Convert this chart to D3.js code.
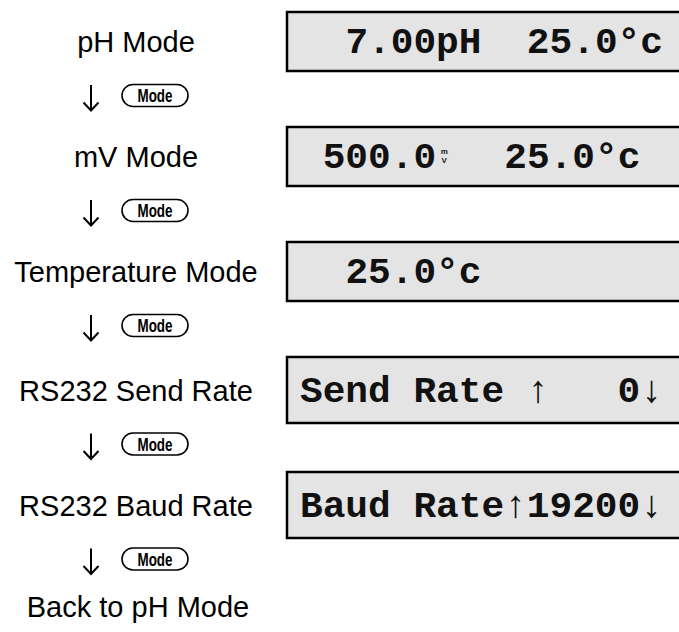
<!DOCTYPE html>
<html>
<head>
<meta charset="utf-8">
<script src="https://cdn.jsdelivr.net/npm/d3@7"></script>
<style>
  html, body { margin: 0; padding: 0; background: #fff; }
  svg { display: block; }
</style>
</head>
<body>
<script>
// ---- data ----
const modeLabels = ["pH Mode", "mV Mode", "Temperature Mode", "RS232 Send Rate", "RS232 Baud Rate"];
const displayTexts = ["  7.00pH  25.0°c", " 500.0   25.0°c", "  25.0°c", "Send Rate ↑   0↓", "Baud Rate↑19200↓"];
const unitGlyphs = [null, {col: 6, top: "m", bottom: "V"}, null, null, null];
const buttonLabel = "Mode";
const finalLabel = "Back to pH Mode";

// ---- layout ----
const W = 679, H = 632;
const svg = d3.select("body").append("svg").attr("width", W).attr("height", H);

const rowTop = d3.scaleLinear().domain([0, 4]).range([12, 472]);
const boxH = i => (displayTexts[i].includes("↑") ? 66 : 59);
const boxCenter = i => rowTop(i) + boxH(i) / 2;
const labelX = 136;
const boxX = 287;
const charW = 22.7;
const col = d3.scaleLinear().domain([0, 16]).range([300, 300 + 16 * charW]);

const rows = svg.selectAll("g.row").data(modeLabels).join("g").attr("class", "row");

// left labels
rows.append("text")
  .attr("x", labelX)
  .attr("y", (d, i) => boxCenter(i) + 10.5)
  .attr("text-anchor", "middle")
  .attr("font-family", "'Liberation Sans', Arial, sans-serif")
  .attr("font-size", 29)
  .attr("fill", "#000")
  .text(d => d);

// display boxes
rows.append("rect")
  .attr("x", boxX)
  .attr("y", (d, i) => rowTop(i))
  .attr("width", W - boxX + 10)
  .attr("height", (d, i) => boxH(i))
  .attr("fill", "#e4e4e4")
  .attr("stroke", "#000")
  .attr("stroke-width", 2.5);

// LCD text: split into segments around any custom glyph cell
displayTexts.forEach((s, i) => {
  const g = unitGlyphs[i];
  const segs = g
    ? [{c0: 0, str: s.slice(0, g.col)}, {c0: g.col + 1, str: s.slice(g.col + 1)}]
    : [{c0: 0, str: s}];
  segs.forEach(seg => {
    const lead = seg.str.match(/^ */)[0].length;
    const txt = seg.str.trim();
    if (!txt) return;
    svg.append("text")
      .attr("x", col(seg.c0 + lead))
      .attr("y", boxCenter(i) + 11.5)
      .attr("font-family", "'Liberation Mono', 'Courier New', monospace")
      .attr("font-weight", "bold")
      .attr("font-size", 37.8)
      .attr("fill", "#111")
      .style("white-space", "pre")
      .text(txt);
  });
  if (g) {
    const cx = col(g.col) + 8;
    const cy = boxCenter(i);
    [[g.top, cy - 3], [g.bottom, cy + 6]].forEach(([ch, y]) => {
      svg.append("text").attr("x", cx).attr("y", y)
        .attr("text-anchor", "middle")
        .attr("font-family", "'Liberation Sans', Arial, sans-serif")
        .attr("font-size", 8).attr("font-weight", "bold").attr("fill", "#111")
        .text(ch);
    });
  }
});

// arrows + Mode buttons
const arrowRows = svg.selectAll("g.arrow").data(modeLabels).join("g").attr("class", "arrow")
  .attr("transform", (d, i) => `translate(0,${boxCenter(i) + 54})`);

arrowRows.append("path")
  .attr("d", "M91,-10.5 L91,15 M83.5,7 L91,15 L98.5,7")
  .attr("fill", "none")
  .attr("stroke", "#000")
  .attr("stroke-width", 2);

arrowRows.append("rect")
  .attr("x", 122).attr("y", -11)
  .attr("width", 66).attr("height", 22)
  .attr("rx", 11).attr("ry", 11)
  .attr("fill", "#fff")
  .attr("stroke", "#000")
  .attr("stroke-width", 1.6);

arrowRows.append("text")
  .attr("x", 155).attr("y", 6.8)
  .attr("text-anchor", "middle")
  .attr("font-family", "'Liberation Sans Narrow', 'Arial Narrow', 'Liberation Sans', sans-serif")
  .attr("font-weight", "bold")
  .attr("font-size", 19)
  .attr("textLength", 35)
  .attr("lengthAdjust", "spacingAndGlyphs")
  .attr("fill", "#000")
  .text(buttonLabel);

// final label
svg.append("text")
  .attr("x", labelX + 2)
  .attr("y", boxCenter(4) + 54 + 58)
  .attr("text-anchor", "middle")
  .attr("font-family", "'Liberation Sans', Arial, sans-serif")
  .attr("font-size", 29)
  .attr("fill", "#000")
  .text(finalLabel);
</script>
</body>
</html>
